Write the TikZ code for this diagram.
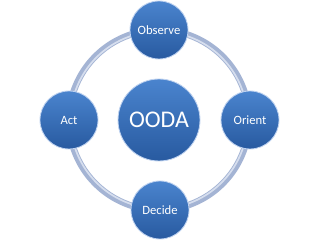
\documentclass[tikz,border=0pt]{standalone}
\usepackage{fontspec}
\setmainfont{Carlito}
\definecolor{ringc}{RGB}{164,180,212}
\definecolor{ringl}{RGB}{214,222,238}
\definecolor{bluetop}{RGB}{74,132,206}
\definecolor{bluebot}{RGB}{40,90,160}
\definecolor{rimc}{RGB}{190,210,240}
\begin{document}
\begin{tikzpicture}[x=0.025cm,y=-0.025cm,
  phase/.style={circle,minimum size=58*0.025cm,inner sep=0pt,top color=bluetop,bottom color=bluebot,draw=rimc,line width=0.6pt,text=white,font=\fontsize{9}{10}\selectfont},
  core/.style={phase,minimum size=82*0.025cm,font=\fontsize{17}{18}\selectfont}]
\useasboundingbox[fill=white] (0,0) rectangle (320,240);
\coordinate (c) at (159,120);
\draw[ringc,line width=4.6pt] (c) circle[radius=90*0.025cm];
\draw[ringl,line width=1.2pt] (c) circle[radius=88.5*0.025cm];
\node[phase] (obs) at (159,30) {Observe};
\node[phase] (ori) at (250,120) {Orient};
\node[phase] (dec) at (160,210) {Decide};
\node[phase] (act) at (69,120) {Act};
\node[core] (ooda) at (159,120) {OODA};
\end{tikzpicture}
\end{document}
